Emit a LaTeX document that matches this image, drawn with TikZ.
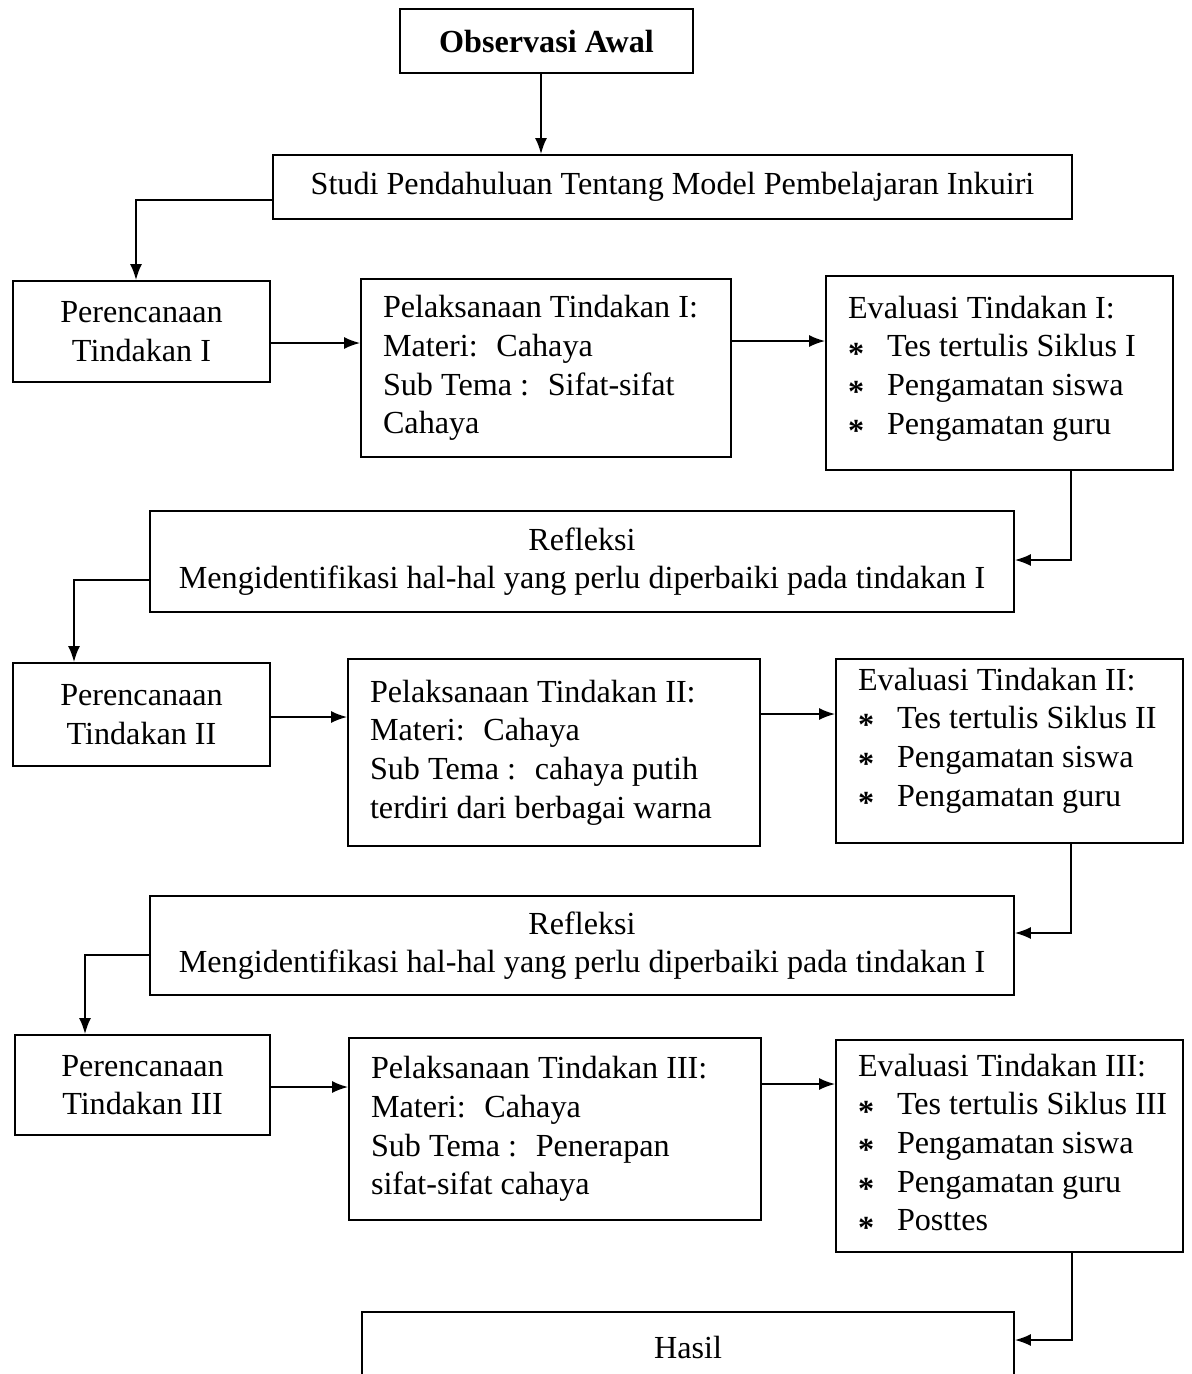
\documentclass[tikz,border=0pt]{standalone}
\usepackage{fontspec}
\setmainfont{Liberation Serif}
\usetikzlibrary{arrows.meta,calc,positioning}

\tikzstyle{box} = [draw, line width=1.1pt, inner sep=0pt]
\tikzstyle{listbox} = [box, align=flush left, inner xsep=0.44cm]
\tikzstyle{arr} = [-{Latex[length=0.32cm,width=0.24cm]}, line width=1pt]
\newcommand{\itm}[1]{\makebox[0.78cm][l]{\raisebox{-0.22em}{\textbf{*}}}\mbox{#1}}

\begin{document}
\begin{tikzpicture}[x=0.02cm, y=-0.02cm, font=\fontsize{18.3}{22}\selectfont]
  \clip (0,0) rectangle (1192,1374);

  % top
  \node[box, minimum width=5.86cm, minimum height=1.28cm] (obs) at (546.5,41) {\textbf{Observasi Awal}};
  \node[box, minimum width=15.98cm, minimum height=1.28cm] (studi) at (672.5,187) {Studi Pendahuluan Tentang Model Pembelajaran Inkuiri};

  % siklus I
  \node[box, align=center, minimum width=5.14cm, minimum height=2.02cm] (per1) at (141.5,331.5) {Perencanaan\\Tindakan I};
  \node[listbox, text width=6.52cm, minimum height=3.56cm] (pel1) at (546,368)
    {Pelaksanaan Tindakan I:\\Materi:~ Cahaya\\Sub Tema :~ Sifat-sifat\\Cahaya};
  \node[listbox, text width=6.06cm, minimum height=3.88cm] (eva1) at (999.5,373)
    {Evaluasi Tindakan I:\\\itm{Tes tertulis Siklus I}\\\itm{Pengamatan siswa}\\\itm{Pengamatan guru}\rule[-9pt]{0pt}{9pt}};
  \node[box, align=center, minimum width=17.28cm, minimum height=2.02cm] (ref1) at (582,561.5)
    {Refleksi\\Mengidentifikasi hal-hal yang perlu diperbaiki pada tindakan I};

  % siklus II
  \node[box, align=center, minimum width=5.14cm, minimum height=2.06cm] (per2) at (141.5,714.5) {Perencanaan\\Tindakan II};
  \node[listbox, text width=7.36cm, minimum height=3.74cm] (pel2) at (554,752.5)
    {Pelaksanaan Tindakan II:\\Materi:~ Cahaya\\Sub Tema :~ cahaya putih\\terdiri dari berbagai warna};
  \node[listbox, text width=6.06cm, minimum height=3.68cm] (eva2) at (1009.5,751)
    {Evaluasi Tindakan II:\\\itm{Tes tertulis Siklus II}\\\itm{Pengamatan siswa}\\\itm{Pengamatan guru}\rule[-16pt]{0pt}{16pt}};
  \node[box, align=center, minimum width=17.28cm, minimum height=1.98cm] (ref2) at (582,945.5)
    {Refleksi\\Mengidentifikasi hal-hal yang perlu diperbaiki pada tindakan I};

  % siklus III
  \node[box, align=center, minimum width=5.1cm, minimum height=2.0cm] (per3) at (142.5,1085) {Perencanaan\\Tindakan III};
  \node[listbox, text width=7.36cm, minimum height=3.64cm] (pel3) at (555,1129)
    {Pelaksanaan Tindakan III:\\Materi:~ Cahaya\\Sub Tema :~ Penerapan\\sifat-sifat cahaya};
  \node[listbox, text width=6.06cm, minimum height=4.24cm] (eva3) at (1009.5,1146)
    {Evaluasi Tindakan III:\\\itm{Tes tertulis Siklus III}\\\itm{Pengamatan siswa}\\\itm{Pengamatan guru}\\\itm{Posttes}};
  \node[box, minimum width=13.04cm, minimum height=1.4cm] (hasil) at (688,1347) {Hasil};

  % connectors
  \draw[arr] (obs.south -| 541,0) -- (studi.north -| 541,0);
  \draw[arr] (studi.west |- 0,200) -| (per1.north -| 136,0);

  \draw[arr] (per1.east |- 0,343) -- (pel1.west |- 0,343);
  \draw[arr] (pel1.east |- 0,341) -- (eva1.west |- 0,341);
  \draw[arr] (eva1.south -| 1071,0) |- (ref1.east |- 0,560);
  \draw[arr] (ref1.west |- 0,580) -| (per2.north -| 74,0);

  \draw[arr] (per2.east |- 0,717) -- (pel2.west |- 0,717);
  \draw[arr] (pel2.east |- 0,714) -- (eva2.west |- 0,714);
  \draw[arr] (eva2.south -| 1071,0) |- (ref2.east |- 0,933);
  \draw[arr] (ref2.west |- 0,955) -| (per3.north -| 85,0);

  \draw[arr] (per3.east |- 0,1087) -- (pel3.west |- 0,1087);
  \draw[arr] (pel3.east |- 0,1084) -- (eva3.west |- 0,1084);
  \draw[arr] (eva3.south -| 1072,0) |- (hasil.east |- 0,1340);
\end{tikzpicture}
\end{document}
